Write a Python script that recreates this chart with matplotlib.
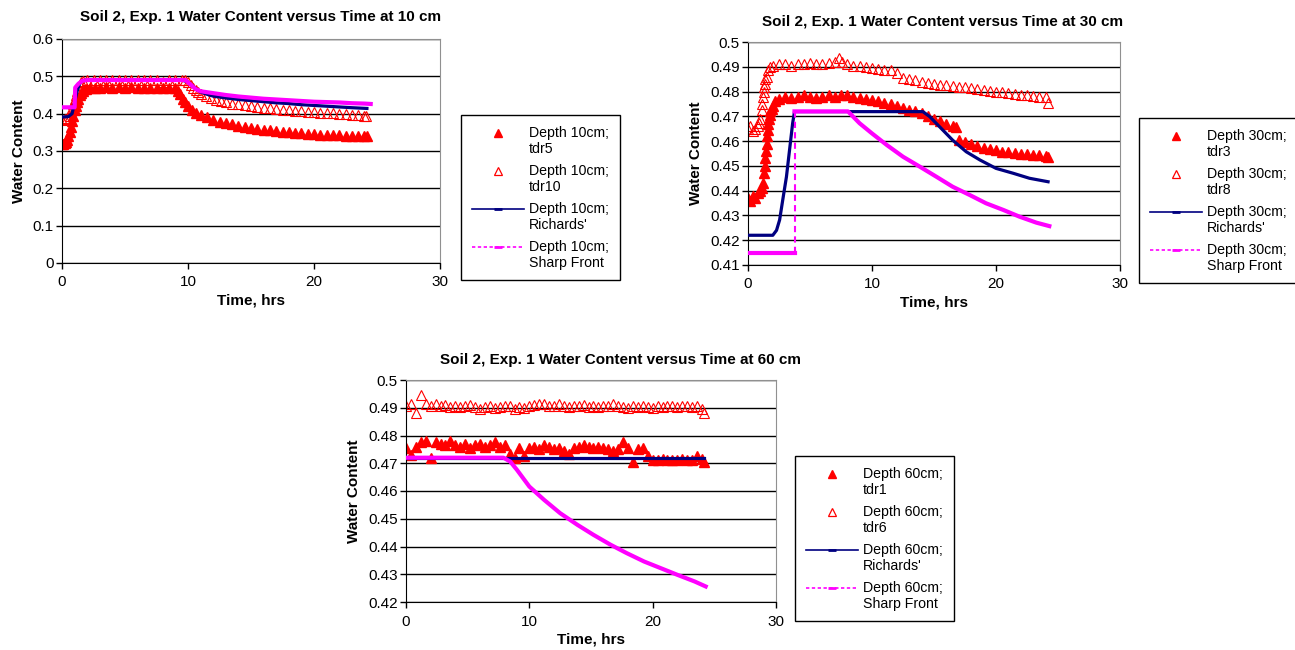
import numpy as np
import matplotlib
matplotlib.use("Agg")
import matplotlib.pyplot as plt
from matplotlib.lines import Line2D
from matplotlib.ticker import FuncFormatter

plt.rcParams["font.family"] = ["Liberation Sans", "DejaVu Sans"]

RED = "#ff0000"
NAVY = "#000080"
MAGENTA = "#ff00ff"

# ---- 10 cm ----
tdr5_t = [0, 0.1, 0.2, 0.3, 0.4, 0.5, 0.6, 0.7, 0.8, 0.9, 1.0, 1.1, 1.2, 1.3, 1.4, 1.5,
          1.7, 1.9, 2.2, 2.6, 3, 3.5, 4, 4.5, 5, 5.5, 6, 6.5, 7, 7.5, 8, 8.5, 9,
          9.2, 9.4, 9.6, 9.8, 10, 10.3, 10.6, 11, 11.5, 12, 12.5, 13, 13.5, 14, 14.5,
          15, 15.5, 16, 16.5, 17, 17.5, 18, 18.5, 19, 19.5, 20, 20.5, 21, 21.5, 22,
          22.5, 23, 23.5, 24, 24.2]
tdr5_y = [0.32, 0.32, 0.322, 0.325, 0.33, 0.34, 0.35, 0.365, 0.38, 0.395, 0.41, 0.42,
          0.43, 0.44, 0.45, 0.455, 0.462, 0.466, 0.468, 0.47, 0.47, 0.471, 0.47, 0.471,
          0.47, 0.471, 0.47, 0.47, 0.47, 0.469, 0.47, 0.47, 0.468, 0.462, 0.452, 0.44,
          0.43, 0.42, 0.41, 0.403, 0.397, 0.39, 0.384, 0.379, 0.375, 0.371, 0.368,
          0.365, 0.362, 0.36, 0.357, 0.355, 0.353, 0.351, 0.35, 0.348, 0.347, 0.346,
          0.345, 0.344, 0.343, 0.342, 0.342, 0.341, 0.341, 0.340, 0.340, 0.339]
tdr10_t = [0, 0.2, 0.4, 0.6, 0.7, 0.8, 0.9, 1.0, 1.1, 1.2, 1.3, 1.4, 1.5, 1.7, 2,
           2.5, 3, 3.5, 4, 4.5, 5, 5.5, 6, 6.5, 7, 7.5, 8, 8.5, 9, 9.5, 9.8,
           10, 10.2, 10.4, 10.6, 10.8, 11, 11.4, 11.8, 12.2, 12.6, 13, 13.5, 14, 14.5,
           15, 15.5, 16, 16.5, 17, 17.5, 18, 18.5, 19, 19.5, 20, 20.5, 21, 21.5, 22,
           22.5, 23, 23.5, 24, 24.1]
tdr10_y = [0.384, 0.385, 0.388, 0.395, 0.405, 0.415, 0.425, 0.44, 0.45, 0.46, 0.47,
           0.478, 0.485, 0.488, 0.49, 0.49, 0.491, 0.49, 0.49, 0.491, 0.49, 0.49,
           0.491, 0.49, 0.49, 0.49, 0.485, 0.49, 0.491, 0.49, 0.49, 0.485, 0.478,
           0.47, 0.464, 0.458, 0.452, 0.446, 0.441, 0.437, 0.433, 0.43, 0.427, 0.425,
           0.422, 0.42, 0.418, 0.416, 0.414, 0.4125, 0.411, 0.409, 0.4075, 0.406,
           0.405, 0.404, 0.403, 0.402, 0.401, 0.4, 0.399, 0.397, 0.396, 0.395, 0.394]
rich10_t = [0, 0.5, 0.8, 1.0, 1.2, 1.4, 1.6, 2, 9.5, 10, 10.5, 11, 11.5, 12, 13, 14,
            15, 16, 17, 18, 19, 20, 21, 22, 23, 24.2]
rich10_y = [0.391, 0.392, 0.40, 0.43, 0.46, 0.48, 0.488, 0.49, 0.49, 0.485, 0.47,
            0.458, 0.452, 0.447, 0.442, 0.438, 0.435, 0.432, 0.429, 0.427, 0.424,
            0.422, 0.42, 0.418, 0.416, 0.414]
sharp10_t = [0, 0.5, 1.0, 1.05, 1.3, 1.6, 2, 9.8, 10.2, 10.6, 11, 12, 13, 14, 15, 16,
             17, 18, 19, 20, 21, 22, 23, 24, 24.5]
sharp10_y = [0.417, 0.417, 0.417, 0.47, 0.48, 0.488, 0.49, 0.49, 0.478, 0.466, 0.46,
             0.455, 0.45, 0.446, 0.443, 0.44, 0.438, 0.436, 0.434, 0.432, 0.431, 0.43,
             0.428, 0.427, 0.426]

# ---- 30 cm ----
tdr3_t = [0, 0.2, 0.4, 0.6, 0.8, 1.0, 1.1, 1.2, 1.3, 1.35, 1.4, 1.45, 1.5, 1.55, 1.6,
          1.65, 1.7, 1.75, 1.8, 1.9, 2.0, 2.2, 2.5, 3, 3.5, 4, 4.5, 5, 5.5, 6, 6.5, 7,
          7.5, 8, 8.5, 9, 9.5, 10, 10.5, 11, 11.5, 12, 12.5, 13, 13.5, 14, 14.5, 15,
          15.5, 16, 16.5, 16.8, 17, 17.5, 18, 18.5, 19, 19.5, 20, 20.5, 21, 21.5, 22,
          22.5, 23, 23.5, 24, 24.2]
tdr3_y = [0.437, 0.436, 0.438, 0.437, 0.439, 0.44, 0.441, 0.443, 0.447, 0.45, 0.453,
          0.456, 0.459, 0.462, 0.4645, 0.467, 0.469, 0.4705, 0.472, 0.473, 0.474,
          0.476, 0.477, 0.478, 0.4775, 0.478, 0.4785, 0.478, 0.4775, 0.478, 0.4785,
          0.478, 0.4785, 0.4785, 0.478, 0.4775, 0.477, 0.4765, 0.476, 0.4755, 0.475,
          0.4743, 0.4735, 0.4725, 0.472, 0.4712, 0.470, 0.469, 0.468, 0.467, 0.466,
          0.4655, 0.4605, 0.4595, 0.4588, 0.458, 0.4573, 0.4568, 0.4563, 0.4558,
          0.4555, 0.4552, 0.455, 0.4548, 0.4545, 0.4543, 0.454, 0.4535]
tdr8_t = [0, 0.2, 0.4, 0.6, 0.8, 0.9, 1.0, 1.1, 1.15, 1.2, 1.25, 1.3, 1.35, 1.4, 1.5,
          1.6, 1.8, 2.0, 2.5, 3, 3.5, 4, 4.5, 5, 5.5, 6, 6.5, 7, 7.3, 7.6, 8, 8.5, 9,
          9.5, 10, 10.5, 11, 11.5, 12, 12.5, 13, 13.5, 14, 14.5, 15, 15.5, 16, 16.5,
          17, 17.5, 18, 18.5, 19, 19.5, 20, 20.5, 21, 21.5, 22, 22.5, 23, 23.5, 24, 24.2]
tdr8_y = [0.465, 0.466, 0.464, 0.465, 0.466, 0.4675, 0.469, 0.4725, 0.475, 0.478, 0.48,
          0.482, 0.483, 0.485, 0.486, 0.4885, 0.49, 0.4905, 0.4912, 0.491, 0.4905,
          0.4912, 0.491, 0.4915, 0.491, 0.4912, 0.4915, 0.4918, 0.4935, 0.492, 0.491,
          0.4905, 0.4905, 0.49, 0.4895, 0.489, 0.4888, 0.4885, 0.4875, 0.4855, 0.485,
          0.4845, 0.484, 0.4835, 0.483, 0.4828, 0.4826, 0.4823, 0.482, 0.4818, 0.4813,
          0.481, 0.4805, 0.4802, 0.48, 0.4797, 0.4794, 0.4792, 0.4788, 0.4786, 0.4783,
          0.478, 0.4778, 0.4752]
rich30_t = [0, 1, 2, 2.3, 2.55, 2.8, 3.1, 3.35, 3.6, 3.75, 14.1, 14.65, 15.45, 16.5,
            17.6, 18.7, 20, 21.4, 22.7, 24.2]
rich30_y = [0.422, 0.422, 0.422, 0.424, 0.4282, 0.4362, 0.4456, 0.4564, 0.4672, 0.4719,
            0.4719, 0.4699, 0.4658, 0.4604, 0.4557, 0.4524, 0.449, 0.447, 0.445, 0.4436]
sharp30_t = [0, 1, 2, 3, 3.75, 3.75, 8.06, 9, 10, 11.2, 12.5, 13.85, 15.2, 16.5, 17.9,
             19.2, 20.6, 21.9, 23.25, 24.3]
sharp30_y = [0.415, 0.415, 0.415, 0.415, 0.415, 0.472, 0.472, 0.4672, 0.4631, 0.4584,
             0.4537, 0.4497, 0.4456, 0.4416, 0.4382, 0.4349, 0.4322, 0.4295, 0.4271,
             0.4257]

# ---- 60 cm ----
tdr60_t = [0, 0.4, 0.8, 1.2, 1.6, 2.0, 2.4, 2.8, 3.2, 3.6, 4.0, 4.4, 4.8, 5.2, 5.6, 6.0,
           6.4, 6.8, 7.2, 7.6, 8.0, 8.4, 8.8, 9.2, 9.6, 10.0, 10.4, 10.8, 11.2, 11.6,
           12.0, 12.4, 12.8, 13.2, 13.6, 14.0, 14.4, 14.8, 15.2, 15.6, 16.0, 16.4,
           16.8, 17.2, 17.6, 18.0, 18.4, 18.8, 19.2, 19.6, 20.0, 20.4, 20.8, 21.2,
           21.6, 22.0, 22.4, 22.8, 23.2, 23.6, 24.0, 24.2]
tdr1_y = [0.4755, 0.473, 0.476, 0.4775, 0.478, 0.472, 0.4775, 0.477, 0.4765, 0.478,
          0.4765, 0.476, 0.477, 0.4755, 0.4765, 0.477, 0.476, 0.4765, 0.4775, 0.476,
          0.4765, 0.4735, 0.472, 0.4755, 0.4725, 0.4755, 0.476, 0.475, 0.4765, 0.476,
          0.475, 0.4755, 0.4745, 0.4735, 0.4755, 0.476, 0.4765, 0.476, 0.4755, 0.476,
          0.4755, 0.475, 0.4745, 0.475, 0.4775, 0.4755, 0.4705, 0.475, 0.4755, 0.4725,
          0.4712, 0.471, 0.4715, 0.471, 0.4712, 0.471, 0.4715, 0.471, 0.4712, 0.4725,
          0.4715, 0.4705]
tdr6_y = [0.4905, 0.4912, 0.488, 0.4945, 0.4915, 0.4908, 0.4912, 0.4905, 0.491, 0.4902,
          0.4908, 0.4903, 0.4905, 0.491, 0.4904, 0.4895, 0.4902, 0.4905, 0.4898, 0.4903,
          0.4905, 0.4908, 0.4895, 0.4902, 0.4898, 0.4905, 0.491, 0.4915, 0.4912, 0.4908,
          0.4906, 0.4912, 0.4905, 0.4902, 0.4908, 0.4905, 0.491, 0.4903, 0.4906, 0.4902,
          0.4905, 0.4908, 0.4912, 0.4906, 0.4902, 0.4898, 0.4905, 0.4903, 0.4908, 0.4902,
          0.4898, 0.4905, 0.4902, 0.4908, 0.4905, 0.4903, 0.4908, 0.4905, 0.4902, 0.4905,
          0.4895, 0.488]
rich60_t = [0, 12, 24.2]
rich60_y = [0.472, 0.472, 0.472]
sharp60_t = [0, 4, 7.9, 8.45, 9.0, 10, 11.2, 12.5, 13.9, 15.2, 16.6, 17.9, 19.3, 20.65,
             22, 23.4, 24.3]
sharp60_y = [0.472, 0.472, 0.472, 0.4706, 0.4676, 0.4616, 0.4568, 0.452, 0.4478, 0.4442,
             0.4406, 0.4376, 0.4346, 0.4322, 0.4298, 0.4274, 0.4256]

W, H = 1295, 650
fig = plt.figure(figsize=(W / 100, H / 100), dpi=100)
LEG_FS = 10.2


def px_axes(left, top, right, bottom):
    return fig.add_axes([left / W, 1 - bottom / H, (right - left) / W, (bottom - top) / H])


def plot_front(ax, t, y):
    # solid where the model moves smoothly, dashed across the vertical jump
    t = np.asarray(t)
    y = np.asarray(y)
    jumps = list(np.where(np.diff(t) == 0)[0])
    start = 0
    for j in jumps:
        ax.plot(t[start:j + 1], y[start:j + 1], color=MAGENTA, lw=3, zorder=4)
        ax.plot(t[j:j + 2], y[j:j + 2], color=MAGENTA, lw=1.5, ls=(0, (3, 2)), zorder=4)
        start = j + 1
    ax.plot(t[start:], y[start:], color=MAGENTA, lw=3, zorder=4)


def panel(ax, depth, probes, rich, sharp, ylim, yticks, title_xy, legend_xy):
    (ta, ya, na), (tb, yb, nb) = probes
    ax.plot(ta, ya, ls="none", marker="^", ms=7.5, color=RED, mec=RED, zorder=2)
    ax.plot(tb, yb, ls="none", marker="^", ms=7.5, mfc="none", mec=RED, mew=0.8, zorder=2)
    ax.plot(rich[0], rich[1], color=NAVY, lw=2.3, zorder=3)
    plot_front(ax, sharp[0], sharp[1])

    ax.set_xlim(0, 30)
    ax.set_xticks([0, 10, 20, 30])
    ax.set_ylim(*ylim)
    ax.set_yticks(yticks)
    ax.yaxis.set_major_formatter(FuncFormatter(lambda v, p: f"{v:g}"))
    ax.yaxis.grid(True, color="black", lw=1)
    ax.set_axisbelow(True)
    ax.tick_params(labelsize=11, length=4, width=1, direction="out")
    ax.tick_params(axis="x", pad=5)
    ax.tick_params(axis="y", pad=2)
    for s in ["top", "right"]:
        ax.spines[s].set_color("#909090")
    for s in ["left", "bottom"]:
        ax.spines[s].set_color("black")
    ax.set_xlabel("Time, hrs", fontsize=11, fontweight="bold", labelpad=3)
    ax.set_ylabel("Water Content", fontsize=11, fontweight="bold", labelpad=5)
    fig.text(title_xy[0] / W, 1 - title_xy[1] / H,
             f"Soil 2, Exp. 1 Water Content versus Time at {depth} cm",
             ha="center", va="center", fontsize=11, fontweight="bold")

    handles = [
        Line2D([], [], ls="none", marker="^", ms=5.5, color=RED),
        Line2D([], [], ls="none", marker="^", ms=5.5, mfc="none", mec=RED, mew=0.9),
        Line2D([], [], color=NAVY, lw=1.2, marker="_", ms=6, mew=2),
        Line2D([], [], color=MAGENTA, lw=1.2, ls=(0, (2, 1.5)), marker="_", ms=6, mew=2),
    ]
    labels = [f"Depth {depth}cm;\n{na}", f"Depth {depth}cm;\n{nb}",
              f"Depth {depth}cm;\nRichards'", f"Depth {depth}cm;\nSharp Front"]
    leg = ax.legend(handles, labels, loc="upper left",
                    bbox_to_anchor=(legend_xy[0] / W, 1 - legend_xy[1] / H),
                    bbox_transform=fig.transFigure, borderaxespad=0, fontsize=LEG_FS,
                    frameon=True, fancybox=False, edgecolor="black", framealpha=1,
                    handlelength=3.7, handletextpad=0.35, labelspacing=0.55,
                    borderpad=0.75)
    leg.get_frame().set_linewidth(1)
    # line the symbols up with the first text line, as in the original legend
    for h in leg.legend_handles:
        h.set_ydata(np.asarray(h.get_ydata()) + 0.6 * LEG_FS)


ax1 = px_axes(62, 39, 440, 263)
panel(ax1, 10, [(tdr5_t, tdr5_y, "tdr5"), (tdr10_t, tdr10_y, "tdr10")],
      (rich10_t, rich10_y), (sharp10_t, sharp10_y),
      (0, 0.6), [0, 0.1, 0.2, 0.3, 0.4, 0.5, 0.6], (261, 17), (461, 115))

ax2 = px_axes(748, 42, 1120, 265)
panel(ax2, 30, [(tdr3_t, tdr3_y, "tdr3"), (tdr8_t, tdr8_y, "tdr8")],
      (rich30_t, rich30_y), (sharp30_t, sharp30_y),
      (0.41, 0.5), [0.41, 0.42, 0.43, 0.44, 0.45, 0.46, 0.47, 0.48, 0.49, 0.5],
      (943, 22), (1139, 118))

ax3 = px_axes(406, 380, 776, 602)
panel(ax3, 60, [(tdr60_t, tdr1_y, "tdr1"), (tdr60_t, tdr6_y, "tdr6")],
      (rich60_t, rich60_y), (sharp60_t, sharp60_y),
      (0.42, 0.5), [0.42, 0.43, 0.44, 0.45, 0.46, 0.47, 0.48, 0.49, 0.5],
      (621, 360), (795, 456))

fig.savefig("out.png", dpi=100)
